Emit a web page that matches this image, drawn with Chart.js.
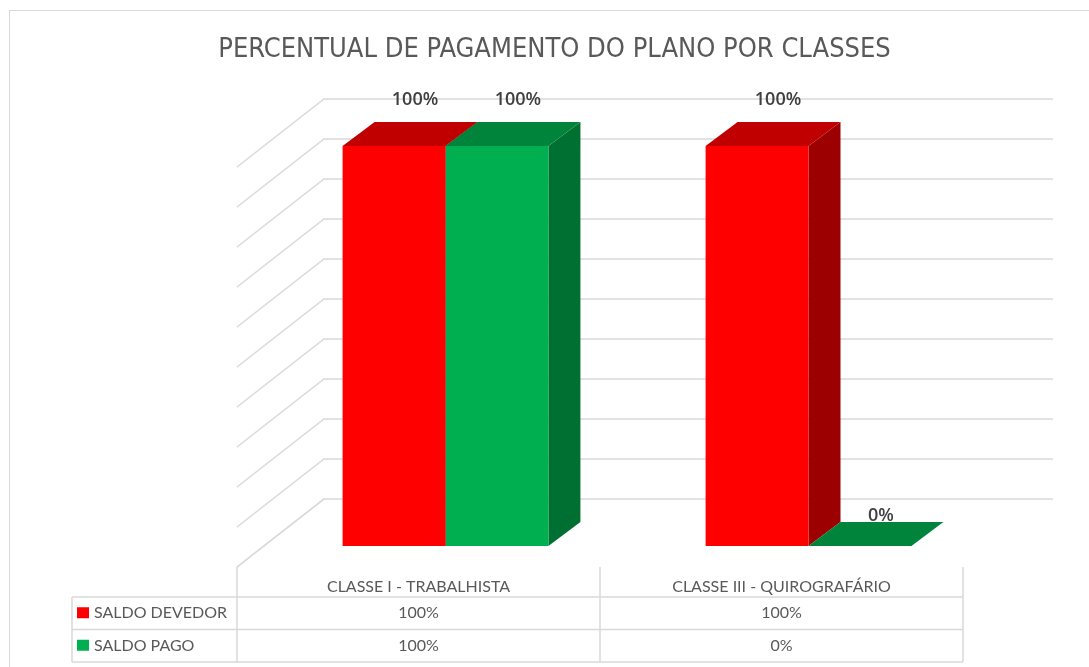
<!DOCTYPE html>
<html>
<head>
<meta charset="utf-8">
<script src="https://cdn.jsdelivr.net/npm/chart.js@4/dist/chart.umd.min.js"></script>
<style>
  html, body { margin: 0; padding: 0; background: #fff; }
  #wrap { position: relative; width: 1089px; height: 667px; }
  #frame { position: absolute; left: 9px; top: 10px; right: -5px; bottom: -5px; border: 1px solid #d9d9d9; }
  canvas { position: absolute; left: 0; top: 0; }
</style>
</head>
<body>
<div id="wrap">
  <div id="frame"></div>
  <canvas id="chart" width="1089" height="667"></canvas>
</div>
<script>
const chartTitle = 'PERCENTUAL DE PAGAMENTO DO PLANO POR CLASSES';
const categories = ['CLASSE I - TRABALHISTA', 'CLASSE III - QUIROGRAFÁRIO'];
const seriesNames = ['SALDO DEVEDOR', 'SALDO PAGO'];
const saldoDevedor = [100, 100];
const saldoPago = [100, 0];
const gridTicks = [0, 10, 20, 30, 40, 50, 60, 70, 80, 90, 100];

const frontColors = ['#ff0000', '#00b050'];
const topColors = ['#c00000', '#00843c'];
const sideColors = ['#9c0000', '#007032'];

// depth offsets (front face -> back face of a bar, front face -> back wall)
const barDepth = { x: 32, y: -24 };
const wallDepth = { x: 60, y: -47 };
const floorFront = { x: -27, y: 21 };

const gridColor = '#d9d9d9';
const textGray = '#595959';

const fmt = v => `${v}%`;

const threeD = {
  id: 'threeD',
  beforeDatasetsDraw(chart) {
    const { ctx, chartArea, scales } = chart;
    const y = scales.y;
    const left = chartArea.left, right = chartArea.right;

    // back wall + left wall gridlines
    ctx.save();
    ctx.strokeStyle = gridColor;
    ctx.lineWidth = 1.5;
    gridTicks.forEach(t => {
      const py = y.getPixelForValue(t);
      ctx.beginPath();
      ctx.moveTo(left + floorFront.x, py + floorFront.y);
      ctx.lineTo(left + wallDepth.x, py + wallDepth.y);
      ctx.lineTo(right + wallDepth.x + 3, py + wallDepth.y);
      ctx.stroke();
    });
    ctx.restore();

    const bars = [];
    chart.data.datasets.forEach((ds, di) => {
      chart.getDatasetMeta(di).data.forEach(el => bars.push({ el, di }));
    });

    ctx.save();
    // side faces first
    bars.forEach(({ el, di }) => {
      const r = el.x + el.width / 2;
      if (Math.abs(el.base - el.y) < 0.5) return;
      ctx.fillStyle = sideColors[di];
      ctx.beginPath();
      ctx.moveTo(r, el.y);
      ctx.lineTo(r + barDepth.x, el.y + barDepth.y);
      ctx.lineTo(r + barDepth.x, el.base + barDepth.y);
      ctx.lineTo(r, el.base);
      ctx.closePath();
      ctx.fill();
    });
    // then top faces
    bars.forEach(({ el, di }) => {
      const l = el.x - el.width / 2, r = el.x + el.width / 2;
      ctx.fillStyle = topColors[di];
      ctx.beginPath();
      ctx.moveTo(l, el.y);
      ctx.lineTo(l + barDepth.x, el.y + barDepth.y);
      ctx.lineTo(r + barDepth.x, el.y + barDepth.y);
      ctx.lineTo(r, el.y);
      ctx.closePath();
      ctx.fill();
    });
    ctx.restore();
  },
  afterDatasetsDraw(chart) {
    const { ctx } = chart;
    ctx.save();
    ctx.font = '600 18px "Open Sans"';
    ctx.fillStyle = '#404040';
    ctx.textAlign = 'center';
    ctx.textBaseline = 'middle';
    chart.data.datasets.forEach((ds, di) => {
      chart.getDatasetMeta(di).data.forEach((el, i) => {
        const v = ds.data[i];
        const tx = el.x + barDepth.x / 2 + 5;
        const ty = el.y + barDepth.y - (v > 0 ? 22 : 6);
        ctx.fillText(fmt(v), tx, ty);
      });
    });
    ctx.restore();
  },
  afterDraw(chart) {
    const { ctx, chartArea, scales } = chart;
    const x = scales.x;
    const band = (chartArea.right - chartArea.left) / categories.length;
    const colLeft = chartArea.left + floorFront.x;
    const topY = chartArea.bottom + floorFront.y;
    const rowTop = 597, rowH = 32.5;
    const headLeft = 72;
    const colRight = colLeft + band * categories.length;

    ctx.save();
    ctx.strokeStyle = gridColor;
    ctx.lineWidth = 1.5;
    // floor left edge
    ctx.beginPath();
    ctx.moveTo(colLeft, topY);
    ctx.lineTo(chartArea.left + wallDepth.x, chartArea.bottom + wallDepth.y);
    ctx.stroke();
    // column separators
    for (let i = 0; i <= categories.length; i++) {
      const cx = colLeft + band * i;
      ctx.beginPath();
      ctx.moveTo(cx, topY);
      ctx.lineTo(cx, rowTop + rowH * seriesNames.length);
      ctx.stroke();
    }
    // row lines
    for (let r = 0; r <= seriesNames.length; r++) {
      const ry = rowTop + rowH * r;
      ctx.beginPath();
      ctx.moveTo(headLeft, ry);
      ctx.lineTo(colRight, ry);
      ctx.stroke();
    }
    ctx.beginPath();
    ctx.moveTo(headLeft, rowTop);
    ctx.lineTo(headLeft, rowTop + rowH * seriesNames.length);
    ctx.stroke();

    // row headers with legend keys, values
    const rows = [saldoDevedor, saldoPago];
    ctx.font = '16px Lato';
    ctx.textBaseline = 'middle';
    rows.forEach((vals, r) => {
      const cy = rowTop + rowH * r + rowH / 2;
      ctx.fillStyle = frontColors[r];
      ctx.fillRect(77, cy - 6, 12, 11);
      ctx.fillStyle = textGray;
      ctx.textAlign = 'left';
      ctx.fillText(seriesNames[r], 94, cy);
      ctx.textAlign = 'center';
      vals.forEach((v, i) => {
        const cx = x.getPixelForValue(i) + floorFront.x;
        ctx.fillText(fmt(v), cx, cy);
      });
    });
    ctx.restore();
  }
};

new Chart(document.getElementById('chart'), {
  type: 'bar',
  data: {
    labels: categories,
    datasets: [
      { label: seriesNames[0], data: saldoDevedor, backgroundColor: frontColors[0] },
      { label: seriesNames[1], data: saldoPago, backgroundColor: frontColors[1] },
    ],
  },
  options: {
    responsive: false,
    animation: false,
    events: [],
    layout: { padding: { left: 20, right: 0, top: 0, bottom: 0 } },
    datasets: {
      bar: { categoryPercentage: 0.567, barPercentage: 1.0, borderWidth: 0 },
    },
    plugins: {
      legend: { display: false },
      tooltip: { enabled: false },
      title: {
        display: true,
        text: chartTitle,
        color: textGray,
        font: { family: '"Liberation Sans Narrow", "DejaVu Sans Condensed", sans-serif', size: 27, weight: 'normal', lineHeight: 1.2 },
        padding: { top: 34, bottom: 79.6 },
      },
    },
    scales: {
      x: {
        grid: { display: false },
        border: { display: false },
        ticks: {
          color: textGray,
          font: { family: 'Lato', size: 16 },
          padding: 23,
          labelOffset: floorFront.x,
          maxRotation: 0,
        },
        afterFit: s => { s.height = 121; },
      },
      y: {
        min: 0,
        max: 100,
        grid: { display: false },
        border: { display: false },
        ticks: { display: false },
        afterFit: s => { s.width = 244; },
      },
      yR: {
        position: 'right',
        grid: { display: false },
        border: { display: false },
        ticks: { display: false },
        afterFit: s => { s.width = 99; },
      },
    },
  },
  plugins: [threeD],
});
</script>
</body>
</html>
